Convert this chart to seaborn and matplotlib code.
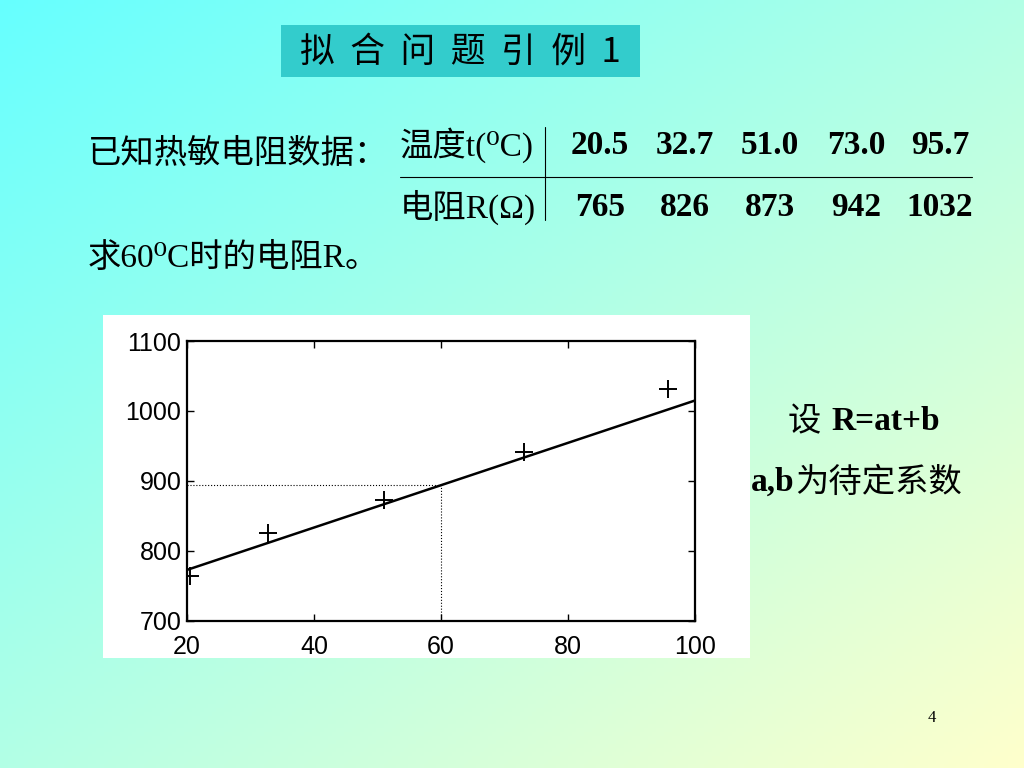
import numpy as np
import matplotlib
matplotlib.use('Agg')
import matplotlib.pyplot as plt
from matplotlib.patches import Rectangle
import seaborn as sns

# thermistor data (table + scatter)
temps = [20.5, 32.7, 51.0, 73.0, 95.7]
resist = [765, 826, 873, 942, 1032]
# fitted line R = a*t + b, endpoints
fit_t = [20, 100]
fit_R = [773, 1015]
# read-off at 60 degrees
query_t = 60
query_R = 895
x_ticks = [20, 40, 60, 80, 100]
y_ticks = [700, 800, 900, 1000, 1100]

sns.set_theme(style="ticks")
plt.rcParams['font.family'] = ['Liberation Serif', 'DejaVu Serif', 'Noto Sans CJK SC']
plt.rcParams['text.color'] = 'black'

CJK = ['Noto Sans CJK SC', 'DejaVu Sans']
MIX = ['Liberation Serif', 'DejaVu Serif', 'Noto Sans CJK SC']
TICKF = ['Liberation Sans', 'DejaVu Sans']
FS = 24

fig = plt.figure(figsize=(10.24, 7.68), dpi=100)

# slide background: diagonal cyan -> pale yellow gradient
bg = fig.add_axes([0, 0, 1, 1])
gx, gy = np.meshgrid(np.linspace(0, 1, 256), np.linspace(0, 1, 192))
g = ((gx + gy) / 2)[..., None]
c0 = np.array([102, 255, 255]) / 255
c1 = np.array([255, 255, 204]) / 255
bg.imshow(c0 + (c1 - c0) * g, extent=[0, 1024, 768, 0], aspect='auto')
bg.set_xlim(0, 1024)
bg.set_ylim(768, 0)
bg.axis('off')

# title box
bg.add_patch(Rectangle((281, 25), 359, 52, color='#33CCCC', lw=0))
bg.text(460, 52, "拟  合  问  题  引  例  1", family=CJK, fontsize=25,
        ha='center', va='center', color='black')

# problem text
bg.text(88, 153, "已知热敏电阻数据：", family=CJK, fontsize=FS, ha='left', va='center')
bg.text(88, 258, "求60⁰C时的电阻R。", family=MIX, fontsize=FS, ha='left', va='center')

# data table
bg.text(400, 145, "温度t(⁰C)", family=MIX, fontsize=FS, ha='left', va='center')
bg.text(400, 207, "电阻R(Ω)", family=MIX, fontsize=FS, ha='left', va='center')
bg.plot([400, 972], [177, 177], color='black', lw=0.8)
bg.plot([545, 545], [127, 220], color='black', lw=0.8)
col_x = [600, 685, 770, 856, 940]
for cx, t, r in zip(col_x, temps, resist):
    bg.text(cx, 145, f"{t:.1f}", family=MIX, fontsize=FS, weight='bold',
            ha='center', va='center')
    bg.text(cx, 207, f"{r}", family=MIX, fontsize=FS, weight='bold',
            ha='center', va='center')

# model text
bg.text(788, 422, "设", family=CJK, fontsize=FS, ha='left', va='center')
bg.text(831, 422, "R=at+b", family=MIX, fontsize=FS, weight='bold', ha='left', va='center')
bg.text(751, 482, "a,b", family=MIX, fontsize=FS, weight='bold', ha='left', va='center')
bg.text(795, 482, "为待定系数", family=CJK, fontsize=FS, ha='left', va='center')

# page number
bg.text(932, 718, "4", family=MIX, fontsize=12, ha='center', va='center')

# white panel behind chart
bg.add_patch(Rectangle((103, 315), 647, 343, color='white', lw=0))

# chart
ax = fig.add_axes([187 / 1024, (768 - 621) / 768, 508 / 1024, 280 / 768])
ax.set_facecolor('white')
sns.lineplot(x=fit_t, y=fit_R, ax=ax, color='black', lw=1.8)
sns.scatterplot(x=temps, y=resist, ax=ax, marker='+', s=180, color='black',
                linewidth=1.4, zorder=5)
ax.plot([fit_t[0], query_t], [query_R, query_R], ls=':', color='black', lw=0.8)
ax.plot([query_t, query_t], [y_ticks[0], query_R], ls=':', color='black', lw=0.8)

ax.set_xlim(x_ticks[0], x_ticks[-1])
ax.set_ylim(y_ticks[0], y_ticks[-1])
ax.set_xticks(x_ticks)
ax.set_yticks(y_ticks)
ax.tick_params(direction='in', top=True, right=True, length=5, width=1,
               labelsize=18, colors='black')
ax.tick_params(axis='x', pad=10)
ax.tick_params(axis='y', pad=4)
for lab in ax.get_xticklabels() + ax.get_yticklabels():
    lab.set_family(TICKF)
for s in ax.spines.values():
    s.set_visible(True)
    s.set_linewidth(1.6)
    s.set_color('black')
ax.set_xlabel("")
ax.set_ylabel("")

fig.savefig("out.png", dpi=100)
plt.close(fig)
